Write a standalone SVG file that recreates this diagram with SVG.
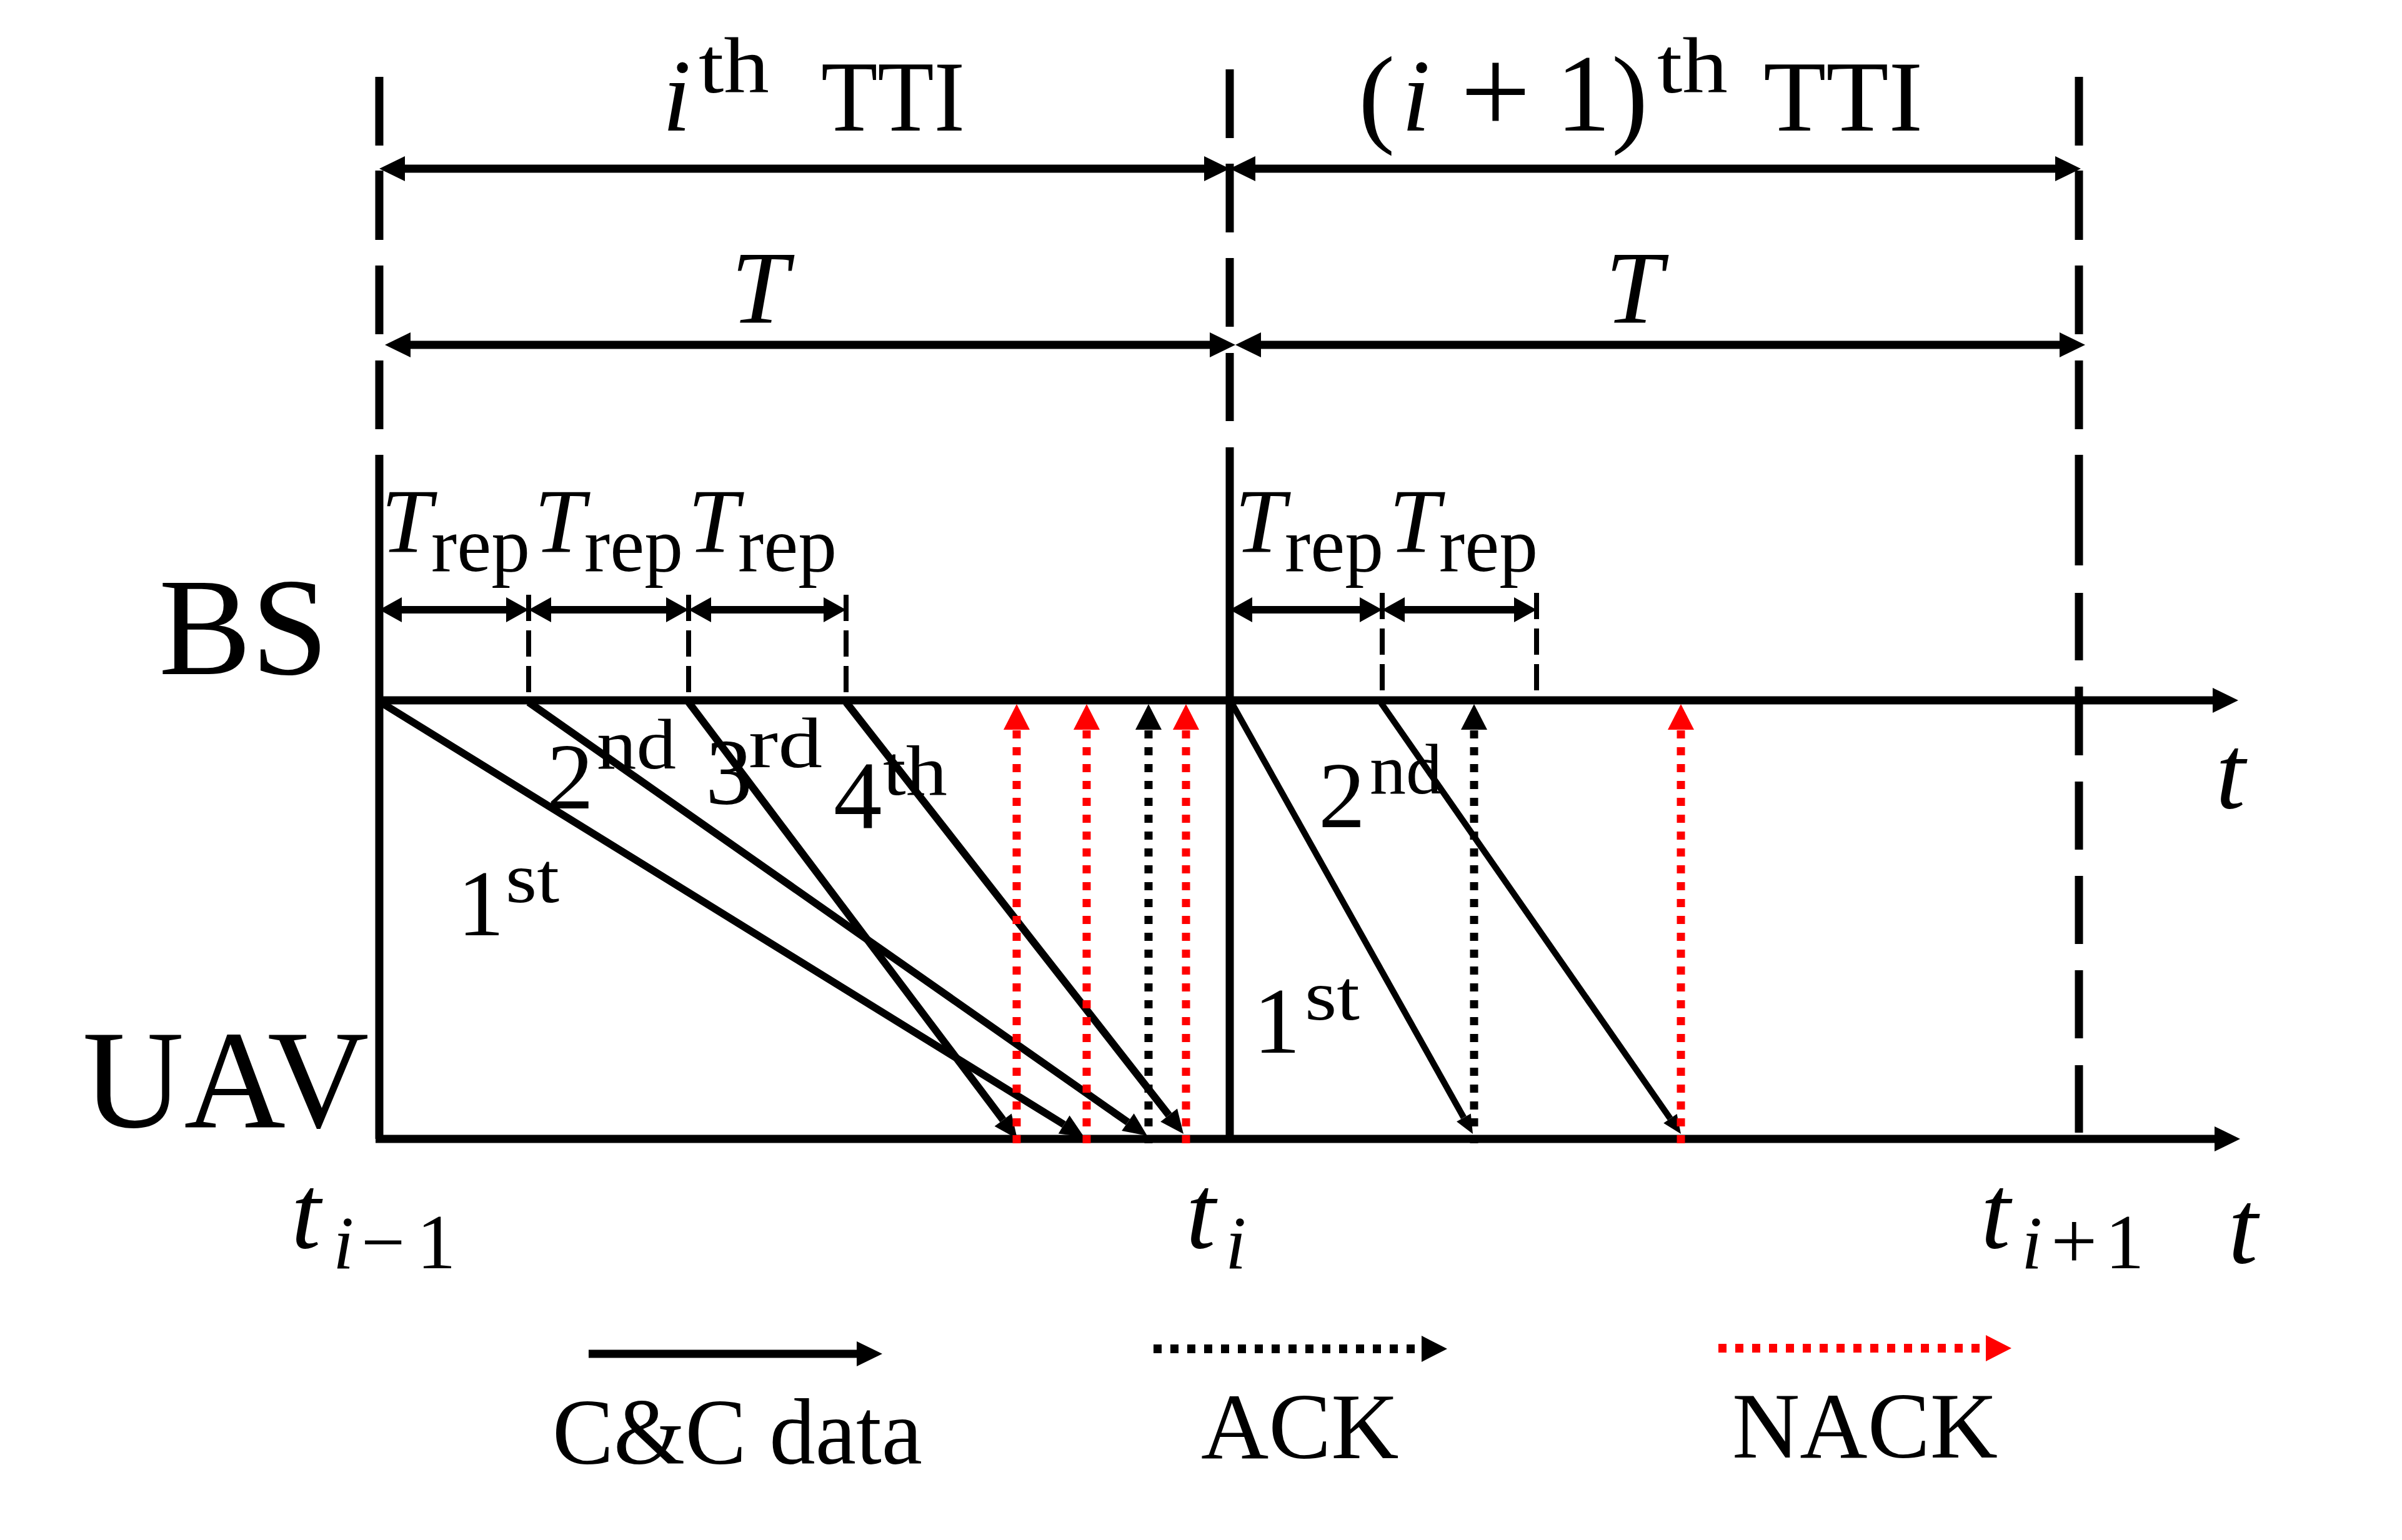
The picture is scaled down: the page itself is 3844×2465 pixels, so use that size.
<svg xmlns="http://www.w3.org/2000/svg" width="3844" height="2465" viewBox="0 0 3844 2465">
<style>
  text { font-family: "Liberation Serif", "Times New Roman", serif; fill: #000; }
  .it { font-style: italic; }
  .ln { stroke: #000; fill: none; }
  .axis { stroke: #000; stroke-width: 13; fill: none; }
  .dim { stroke: #000; stroke-width: 13; fill: none; marker-start: url(#ah); marker-end: url(#ah); }
  .rep { stroke: #000; stroke-width: 12; fill: none; marker-start: url(#ahs); marker-end: url(#ahs); }
  .tick { stroke: #000; stroke-width: 8; stroke-dasharray: 42 15; fill: none; }
  .data { stroke: #000; stroke-width: 12; fill: none; marker-end: url(#ahd); }
  .data2 { stroke: #000; stroke-width: 10; fill: none; marker-end: url(#ahd2); }
  .ack { stroke: #000; stroke-width: 13; stroke-dasharray: 13 14; fill: none; marker-end: url(#ahk); }
  .nack { stroke: #FF0000; stroke-width: 13; stroke-dasharray: 13 14; fill: none; marker-end: url(#ahr); }
</style>
<defs>
  <marker id="ah" markerUnits="userSpaceOnUse" markerWidth="42" markerHeight="42" refX="0" refY="20" orient="auto-start-reverse" overflow="visible">
    <path d="M0,0 L41,20 L0,40 Z" fill="#000"/>
  </marker>
  <marker id="ahs" markerUnits="userSpaceOnUse" markerWidth="37" markerHeight="42" refX="0" refY="20" orient="auto-start-reverse" overflow="visible">
    <path d="M0,0 L36,20 L0,40 Z" fill="#000"/>
  </marker>
  <marker id="ahd" markerUnits="userSpaceOnUse" markerWidth="39" markerHeight="36" refX="0" refY="17" orient="auto" overflow="visible">
    <path d="M0,0 L38,17 L0,34 Z" fill="#000"/>
  </marker>
  <marker id="ahd2" markerUnits="userSpaceOnUse" markerWidth="31" markerHeight="28" refX="0" refY="13" orient="auto" overflow="visible">
    <path d="M0,0 L30,13 L0,26 Z" fill="#000"/>
  </marker>
  <marker id="ahk" markerUnits="userSpaceOnUse" markerWidth="42" markerHeight="44" refX="0" refY="21" orient="auto" overflow="visible">
    <path d="M0,0 L41,21 L0,42 Z" fill="#000"/>
  </marker>
  <marker id="ahr" markerUnits="userSpaceOnUse" markerWidth="42" markerHeight="44" refX="0" refY="21" orient="auto" overflow="visible">
    <path d="M0,0 L41,21 L0,42 Z" fill="#FF0000"/>
  </marker>
</defs>
<rect x="0" y="0" width="3844" height="2465" fill="#fff"/>

<g id="boundaries">
  <path class="axis" d="M607,123 V233 M607,273 V384 M607,425 V535 M607,577 V687 M607,728 V1823"/>
  <path class="axis" d="M1968,111 V221 M1968,262 V372 M1968,413 V523 M1968,565 V674 M1968,716 V1823"/>
  <path class="axis" d="M3327,123 V233 M3327,273 V384 M3327,425 V535 M3327,577 V687 M3327,728 V905 M3327,949 V1057 M3327,1099 V1209 M3327,1251 V1360 M3327,1402 V1511 M3327,1553 V1662 M3327,1705 V1813"/>
</g>

<g id="bs-axis">
  <line class="axis" x1="601" y1="1121" x2="3541" y2="1121" marker-end="url(#ah)"/>
  <text x="254" y="1079" font-size="222">BS</text>
  <text class="it" x="3546" y="1293" font-size="170">t</text>
</g>
<g id="uav-axis">
  <line class="axis" x1="601" y1="1823" x2="3544" y2="1823" marker-end="url(#ah)"/>
  <text x="132" y="1804" font-size="225">UAV</text>
  <text class="it" x="3566" y="2021" font-size="170">t</text>
</g>

<g id="tti-i">
  <text font-size="165"><tspan class="it" x="1060" y="209">i</tspan><tspan x="1118" y="148" font-size="128" textLength="113" lengthAdjust="spacingAndGlyphs">th</tspan><tspan x="1314" y="209" font-size="160" textLength="230" lengthAdjust="spacingAndGlyphs">TTI</tspan></text>
</g>
<g id="tti-i1">
  <text font-size="175"><tspan x="2174" y="212">(</tspan><tspan class="it" x="2243" y="209" font-size="165">i</tspan><tspan x="2337" y="213" font-size="200">+</tspan><tspan x="2490" y="209">1</tspan><tspan x="2579" y="212">)</tspan><tspan x="2652" y="148" font-size="128" textLength="113" lengthAdjust="spacingAndGlyphs">th</tspan><tspan x="2822" y="209" font-size="160" textLength="255" lengthAdjust="spacingAndGlyphs">TTI</tspan></text>
</g>
<g id="T-labels">
  <text class="it" x="1170" y="516" font-size="165">T</text>
  <text class="it" x="2569" y="516" font-size="165">T</text>
</g>
<g id="trep-labels">
  <text font-size="146"><tspan class="it" x="610" y="884">T</tspan><tspan x="690" y="914" font-size="125" textLength="158" lengthAdjust="spacingAndGlyphs">rep</tspan></text>
  <text font-size="146"><tspan class="it" x="855" y="884">T</tspan><tspan x="935" y="914" font-size="125" textLength="158" lengthAdjust="spacingAndGlyphs">rep</tspan></text>
  <text font-size="146"><tspan class="it" x="1101" y="884">T</tspan><tspan x="1181" y="914" font-size="125" textLength="158" lengthAdjust="spacingAndGlyphs">rep</tspan></text>
  <text font-size="146"><tspan class="it" x="1976" y="884">T</tspan><tspan x="2056" y="914" font-size="125" textLength="158" lengthAdjust="spacingAndGlyphs">rep</tspan></text>
  <text font-size="146"><tspan class="it" x="2223" y="884">T</tspan><tspan x="2303" y="914" font-size="125" textLength="158" lengthAdjust="spacingAndGlyphs">rep</tspan></text>
</g>

<g id="labels-tti-i">
  <text font-size="150"><tspan x="732" y="1497">1</tspan><tspan x="809" y="1444" font-size="115" textLength="86" lengthAdjust="spacingAndGlyphs">st</tspan></text>
  <text font-size="150"><tspan x="875" y="1294">2</tspan><tspan x="955" y="1230" font-size="115" textLength="127" lengthAdjust="spacingAndGlyphs">nd</tspan></text>
  <text font-size="150"><tspan x="1129" y="1287">3</tspan><tspan x="1198" y="1228" font-size="115" textLength="118" lengthAdjust="spacingAndGlyphs">rd</tspan></text>
  <text font-size="155"><tspan x="1334" y="1325">4</tspan><tspan x="1413" y="1272" font-size="115" textLength="103" lengthAdjust="spacingAndGlyphs">th</tspan></text>
</g>
<g id="labels-tti-i1">
  <text font-size="150"><tspan x="2006" y="1685">1</tspan><tspan x="2088" y="1632" font-size="115" textLength="88" lengthAdjust="spacingAndGlyphs">st</tspan></text>
  <text font-size="150"><tspan x="2110" y="1324">2</tspan><tspan x="2192" y="1270" font-size="115" textLength="116" lengthAdjust="spacingAndGlyphs">nd</tspan></text>
</g>

<g id="time-labels">
  <text font-size="170"><tspan class="it" x="466" y="1997">t</tspan><tspan class="it" x="533" y="2030" font-size="120">i</tspan><tspan x="578" y="2030" font-size="125">−</tspan><tspan x="667" y="2030" font-size="125">1</tspan></text>
  <text font-size="170"><tspan class="it" x="1898" y="1997">t</tspan><tspan class="it" x="1961" y="2030" font-size="120">i</tspan></text>
  <text font-size="170"><tspan class="it" x="3170" y="1997">t</tspan><tspan class="it" x="3235" y="2030" font-size="120">i</tspan><tspan x="3282" y="2030" font-size="132">+</tspan><tspan x="3369" y="2030" font-size="125">1</tspan></text>
</g>

<g id="connectors">
  <line class="dim" x1="648" y1="270" x2="1927" y2="270"/>
  <line class="dim" x1="2009" y1="270" x2="3289" y2="270"/>
  <line class="dim" x1="657" y1="552" x2="1936" y2="552"/>
  <line class="dim" x1="2018" y1="552" x2="3296" y2="552"/>
  <line class="rep" x1="643" y1="976" x2="810" y2="976"/>
  <line class="rep" x1="882" y1="976" x2="1066" y2="976"/>
  <line class="rep" x1="1138" y1="976" x2="1318" y2="976"/>
  <line class="rep" x1="2004" y1="976" x2="2176" y2="976"/>
  <line class="rep" x1="2248" y1="976" x2="2423" y2="976"/>
  <line class="tick" x1="846" y1="952" x2="846" y2="1115"/>
  <line class="tick" x1="1102" y1="952" x2="1102" y2="1115"/>
  <line class="tick" x1="1354" y1="952" x2="1354" y2="1115"/>
  <line class="tick" x1="2212" y1="949" x2="2212" y2="1115"/>
  <line class="tick" x1="2459" y1="949" x2="2459" y2="1115"/>
  <line class="data" x1="609" y1="1124" x2="1702.7" y2="1800.0"/>
  <line class="data" x1="846" y1="1124" x2="1804.9" y2="1796.2"/>
  <line class="data" x1="1102" y1="1124" x2="1605.2" y2="1792.6"/>
  <line class="data" x1="1354" y1="1124" x2="1870.6" y2="1785.0"/>
  <line class="data2" x1="1971" y1="1125" x2="2342.4" y2="1788.8"/>
  <line class="data2" x1="2210" y1="1125" x2="2672.9" y2="1790.4"/>
  <line class="nack" x1="1627" y1="1830" x2="1627" y2="1168"/>
  <line class="nack" x1="1739" y1="1830" x2="1739" y2="1168"/>
  <line class="ack" x1="1838" y1="1830" x2="1838" y2="1168"/>
  <line class="nack" x1="1898" y1="1830" x2="1898" y2="1168"/>
  <line class="ack" x1="2359" y1="1830" x2="2359" y2="1168"/>
  <line class="nack" x1="2690" y1="1830" x2="2690" y2="1168"/>
</g>

<g id="legend-data">
  <line class="ln" x1="942" y1="2167" x2="1371" y2="2167" stroke-width="13" marker-end="url(#ah)"/>
  <text x="884" y="2343" font-size="150" textLength="592" lengthAdjust="spacingAndGlyphs">C&amp;C data</text>
</g>
<g id="legend-ack">
  <line x1="1846" y1="2159" x2="2275" y2="2159" stroke="#000" stroke-width="14" stroke-dasharray="13 14" marker-end="url(#ahk)"/>
  <text x="1922" y="2334" font-size="150">ACK</text>
</g>
<g id="legend-nack">
  <line x1="2750" y1="2158" x2="3178" y2="2158" stroke="#FF0000" stroke-width="14" stroke-dasharray="13 14" marker-end="url(#ahr)"/>
  <text x="2772" y="2333" font-size="150">NACK</text>
</g>
</svg>
